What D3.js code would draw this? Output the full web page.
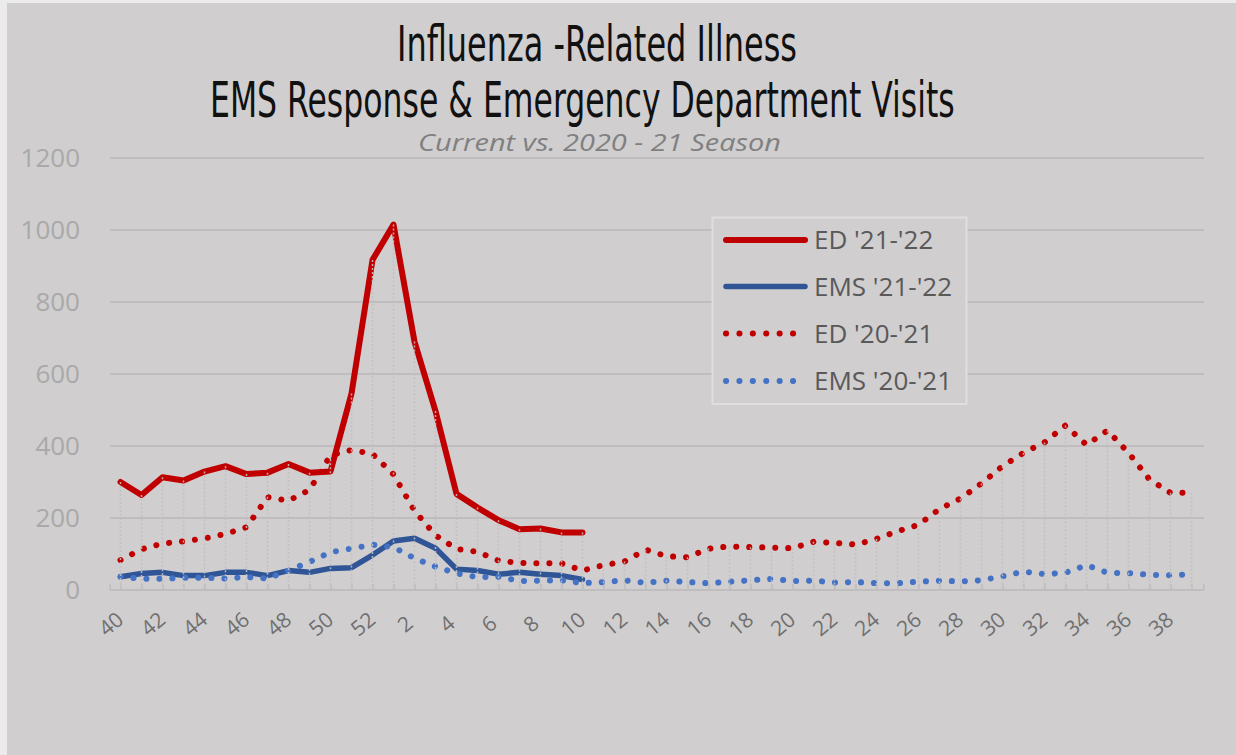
<!DOCTYPE html>
<html>
<head>
<meta charset="utf-8">
<script src="https://cdn.jsdelivr.net/npm/d3@7"></script>
<style>
  html, body { margin: 0; padding: 0; background: #e9e9e9; }
  svg { display: block; }
</style>
</head>
<body>
<svg id="chart" width="1236" height="755"></svg>
<script>
// ---- data ----
const weeks = ["40","41","42","43","44","45","46","47","48","49","50","51","52",
  "1","2","3","4","5","6","7","8","9","10","11","12","13","14","15","16","17","18","19","20",
  "21","22","23","24","25","26","27","28","29","30","31","32","33","34","35","36","37","38","39"];
const tickLabels = ["40","42","44","46","48","50","52","2","4","6","8","10","12","14","16","18","20",
  "22","24","26","28","30","32","34","36","38"];
const yTicks = [0, 200, 400, 600, 800, 1000, 1200];

const edCurrent  = [300, 264, 313, 304, 329, 344, 322, 326, 350, 326, 329, 546, 917, 1015, 690, 497, 267, 229, 194, 169, 171, 160, 160];
const emsCurrent = [37, 46, 49, 40, 40, 49, 49, 40, 54, 49, 60, 62, 97, 136, 144, 116, 58, 54, 44, 49, 44, 40, 29];
const edPrev  = [83, 113, 129, 135, 143, 156, 174, 258, 248, 278, 374, 389, 378, 321, 220, 152, 114, 106, 82, 75, 74, 74, 54,
  69, 79, 112, 94, 91, 115, 121, 119, 118, 116, 134, 131, 126, 142, 163, 181, 225, 254, 296, 344, 381, 410, 457, 403, 443, 381, 307, 270, 270];
const emsPrev = [37, 31, 31, 34, 34, 32, 36, 32, 54, 78, 105, 115, 126, 119, 88, 65, 46, 36, 37, 25, 26, 27, 19,
  22, 27, 20, 26, 22, 19, 23, 27, 31, 25, 26, 21, 22, 19, 19, 23, 26, 24, 27, 38, 51, 44, 48, 69, 48, 47, 42, 41, 44];

const seriesNames = ["ED '21-'22", "EMS '21-'22", "ED '20-'21", "EMS '20-'21"];
const seriesColors = ["#c00000", "#2f5597", "#c00000", "#4472c4"];

// ---- layout ----
const svg = d3.select("#chart");
const W = 1236, H = 755;
const plot = { left: 110, right: 1204, top: 158, bottom: 590 };
const bodyFont = "'Open Sans', 'Liberation Sans', sans-serif";

svg.append("rect").attr("x", 0).attr("y", 0).attr("width", W).attr("height", H).attr("fill", "#ebebeb");
svg.append("rect").attr("x", 7).attr("y", 3).attr("width", W - 7).attr("height", H - 3).attr("fill", "#d0cecf");

const x = d3.scalePoint().domain(weeks).range([120.5, 1191.5]);
const y = d3.scaleLinear().domain([0, 1200]).range([plot.bottom, plot.top]);

// gridlines
svg.append("g").selectAll("line").data(yTicks.filter(d => d > 0)).join("line")
  .attr("x1", plot.left).attr("x2", plot.right)
  .attr("y1", d => y(d)).attr("y2", d => y(d))
  .attr("stroke", "#bfbdbe").attr("stroke-width", 2);

// y labels
svg.append("g").selectAll("text").data(yTicks).join("text")
  .attr("x", 80).attr("y", d => y(d))
  .attr("dy", "0.36em")
  .attr("text-anchor", "end")
  .attr("font-family", bodyFont)
  .attr("font-size", 26)
  .attr("fill", "#a9a9a9")
  .text(d => d);

// x axis
const xAxis = d3.axisBottom(x).tickSizeInner(-6).tickSizeOuter(0)
  .tickFormat(d => tickLabels.includes(d) ? d : "");
const gx = svg.append("g").attr("transform", `translate(0,${plot.bottom})`).call(xAxis);
gx.select(".domain").attr("d", `M${plot.left},0H${plot.right}`).attr("stroke", "#bfbdbe").attr("stroke-width", 2);
gx.selectAll(".tick line").attr("stroke", "#bfbdbe").attr("stroke-width", 1.5);
gx.selectAll(".tick text")
  .attr("font-family", bodyFont)
  .attr("font-size", 21)
  .attr("fill", "#6f6f6f")
  .attr("text-anchor", "middle")
  .attr("dy", "0.35em")
  .attr("y", 0)
  .attr("transform", "translate(-10,34) rotate(-40)");
// end tick marks
gx.append("g").selectAll("line").data([plot.left, plot.right]).join("line")
  .attr("x1", d => d).attr("x2", d => d).attr("y1", -6).attr("y2", 0)
  .attr("stroke", "#bfbdbe").attr("stroke-width", 1.5);

// lines
const allSeries = [edCurrent, emsCurrent, edPrev, emsPrev];
const line = d3.line().x((d, i) => x(weeks[i])).y(d => y(d));
const styles = [
  { w: 6, dash: null },
  { w: 5.5, dash: null },
  { w: 6, dash: "0.1 12.9" },
  { w: 6, dash: "0.1 12.9" }
];
allSeries.forEach((s, k) => {
  svg.append("path").datum(s)
    .attr("d", line)
    .attr("fill", "none")
    .attr("stroke", seriesColors[k])
    .attr("stroke-width", styles[k].w)
    .attr("stroke-linejoin", "round")
    .attr("stroke-linecap", "round")
    .attr("stroke-dasharray", styles[k].dash);
});

// drop lines
const maxes = weeks.map((w, i) => d3.max(allSeries, s => s[i] !== undefined ? s[i] : 0));
svg.append("g").selectAll("line").data(weeks).join("line")
  .attr("x1", d => x(d)).attr("x2", d => x(d))
  .attr("y1", (d, i) => y(maxes[i])).attr("y2", plot.bottom)
  .attr("stroke", "#c2c0c1")
  .attr("stroke-width", 1.5)
  .attr("stroke-dasharray", "2 2")
  .attr("opacity", 0.9);

// legend
const lg = svg.append("g");
lg.append("rect").attr("x", 712.5).attr("y", 217.5).attr("width", 254).attr("height", 186.5)
  .attr("fill", "#d0cecf").attr("stroke", "#e0dfe0").attr("stroke-width", 2);
const rowY = [240, 286.5, 333.5, 381];
seriesNames.forEach((n, k) => {
  lg.append("line").attr("x1", 726).attr("x2", 805).attr("y1", rowY[k]).attr("y2", rowY[k])
    .attr("stroke", seriesColors[k]).attr("stroke-width", styles[k].w)
    .attr("stroke-linecap", "round")
    .attr("stroke-dasharray", styles[k].dash ? "0.1 13.3" : null);
  lg.append("text").attr("x", 814).attr("y", rowY[k]).attr("dy", "0.36em")
    .attr("font-family", bodyFont)
    .attr("font-size", 26).attr("fill", "#595959")
    .text(n);
});

// titles: fit width by horizontal scaling
const tfont = "'Liberation Sans Narrow', 'DejaVu Sans Condensed', 'Liberation Sans', sans-serif";
function fitText(txt, x0, yBase, target, size, opts) {
  const t = svg.append("text").attr("x", 0).attr("y", 0)
    .attr("font-family", opts.font).attr("font-size", size).attr("fill", opts.fill)
    .attr("font-style", opts.style || null)
    .text(txt);
  const len = t.node().getComputedTextLength();
  const s = target / len;
  t.attr("transform", `translate(${x0},${yBase}) scale(${s},1)`);
  return t;
}
fitText("Influenza -Related Illness", 397, 61, 400, 49, { font: tfont, fill: "#111" });
fitText("EMS Response & Emergency Department Visits", 210, 117, 745, 49, { font: tfont, fill: "#111" });
fitText("Current vs. 2020 - 21 Season", 418, 151, 363, 24, { font: bodyFont, fill: "#808080", style: "italic" });
</script>
</body>
</html>
